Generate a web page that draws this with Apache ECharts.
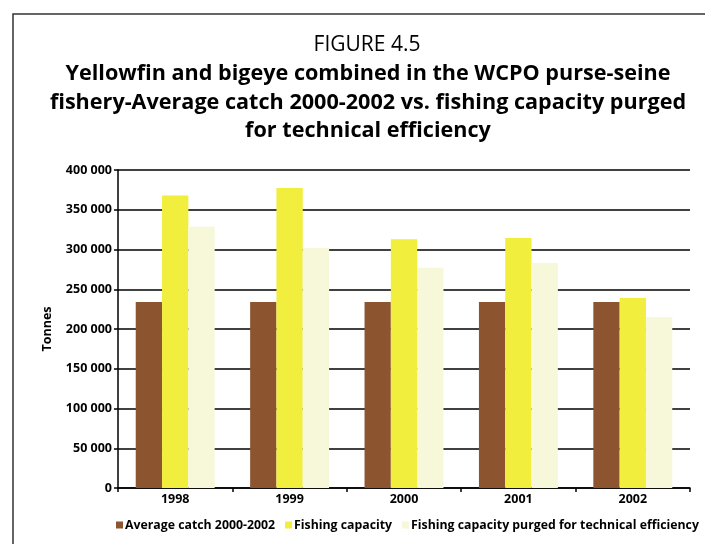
<!DOCTYPE html>
<html>
<head>
<meta charset="utf-8">
<script src="https://cdn.jsdelivr.net/npm/echarts@6/dist/echarts.min.js"></script>
<style>
  html, body { margin: 0; padding: 0; background: #fff; }
  #chart { width: 705px; height: 544px; }
</style>
</head>
<body>
<div id="chart"></div>
<script>
// Years shown on the category axis
const years = ['1998', '1999', '2000', '2001', '2002'];

// Tonnes, yellowfin and bigeye combined
const averageCatch = [234000, 234000, 234000, 234000, 234000];
const fishingCapacity = [368000, 377500, 313000, 314500, 239000];
const purgedCapacity = [328500, 302000, 277000, 283000, 215000];

const seriesNames = [
  'Average catch 2000-2002',
  'Fishing capacity',
  'Fishing capacity purged for technical efficiency'
];

const FONT = '"Open Sans", "Noto Sans", sans-serif';

// Thousands separated by a space: 350 000
function spaced(v) {
  return String(v).replace(/\B(?=(\d{3})+(?!\d))/g, ' ');
}

const chart = echarts.init(document.getElementById('chart'));

chart.setOption({
  animation: false,
  backgroundColor: '#fff',
  textStyle: { fontFamily: FONT },
  graphic: [{
    type: 'rect',
    shape: { x: 13, y: 14, width: 720, height: 560 },
    style: { fill: 'none', stroke: '#333', lineWidth: 1.5 },
    silent: true
  }],
  title: [{
    text: 'FIGURE 4.5',
    left: 362,
    textAlign: 'center',
    top: 30,
    textStyle: { fontFamily: FONT, fontSize: 21, fontWeight: 'normal', color: '#000' }
  }, {
    text: 'Yellowfin and bigeye combined in the WCPO purse-seine\nfishery-Average catch 2000-2002 vs. fishing capacity purged\nfor technical efficiency',
    left: 363,
    textAlign: 'center',
    top: 55,
    textStyle: { fontFamily: FONT, fontSize: 21.6, fontWeight: 'bold', color: '#000', lineHeight: 28.5, align: 'center' }
  }],
  legend: {
    left: 116,
    top: 519,
    width: 600,
    padding: 0,
    itemWidth: 7,
    itemHeight: 7,
    itemGap: 10,
    icon: 'rect',
    textStyle: { fontFamily: FONT, fontSize: 12.3, fontWeight: 'bold', color: '#000', padding: [0, 0, 0, -3] },
    data: seriesNames
  },
  grid: { left: 118, right: 15, top: 170, bottom: 56, containLabel: false },
  xAxis: {
    type: 'category',
    data: years,
    axisLine: { lineStyle: { color: '#000', width: 1.5 } },
    axisTick: { show: true, length: 4, lineStyle: { color: '#000', width: 1.5 } },
    axisLabel: { fontFamily: FONT, fontSize: 12.5, fontWeight: 'bold', color: '#000', margin: 5 }
  },
  yAxis: {
    type: 'value',
    min: 0,
    max: 400000,
    interval: 50000,
    name: 'Tonnes',
    nameLocation: 'middle',
    nameGap: 64,
    nameRotate: 90,
    nameTextStyle: { fontFamily: FONT, fontSize: 12.5, fontWeight: 'bold', color: '#000' },
    axisLine: { show: true, lineStyle: { color: '#000', width: 1.5 } },
    axisTick: { show: true, length: 4, lineStyle: { color: '#000', width: 1.5 } },
    axisLabel: { fontFamily: FONT, fontSize: 12.5, fontWeight: 'bold', color: '#000', margin: 6, formatter: spaced },
    splitLine: { lineStyle: { color: '#000', width: 1.6 } }
  },
  series: [{
    name: seriesNames[0],
    type: 'bar',
    data: averageCatch,
    barGap: '0%',
    barCategoryGap: '31%',
    itemStyle: { color: '#8C5530' }
  }, {
    name: seriesNames[1],
    type: 'bar',
    data: fishingCapacity,
    itemStyle: { color: '#F1EE3D' }
  }, {
    name: seriesNames[2],
    type: 'bar',
    data: purgedCapacity,
    itemStyle: { color: '#F7F7DA' }
  }]
});
</script>
</body>
</html>
